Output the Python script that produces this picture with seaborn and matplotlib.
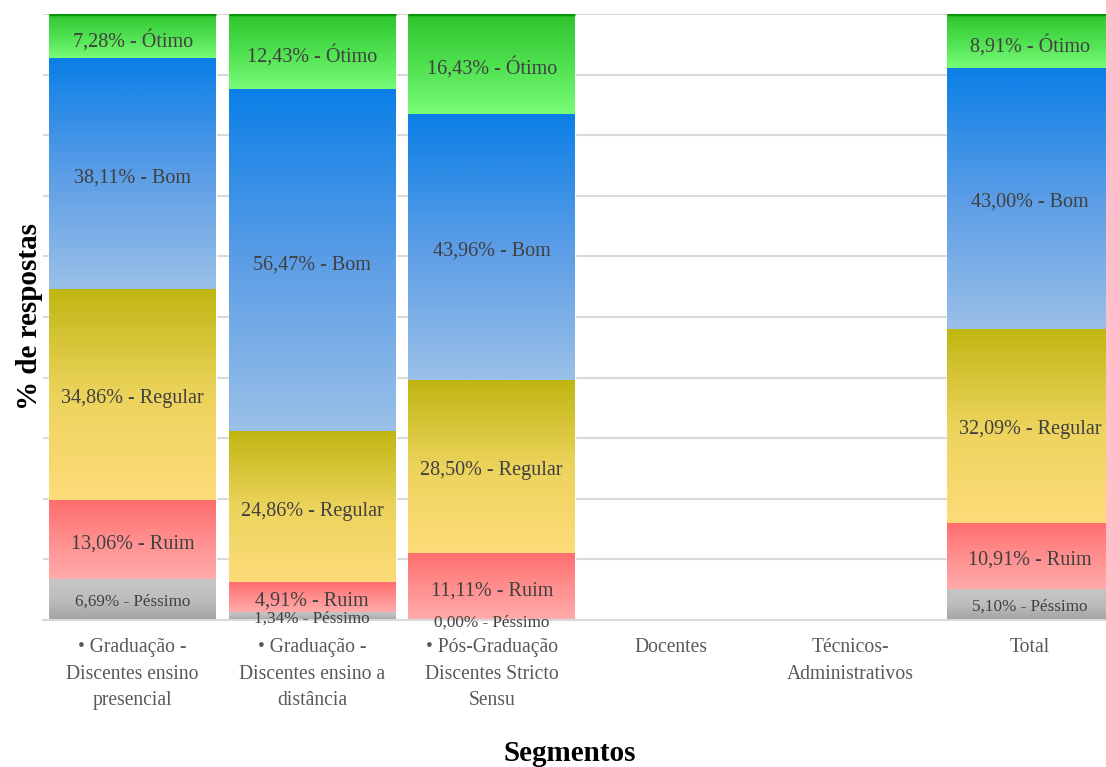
import matplotlib
matplotlib.use("Agg")
import matplotlib.pyplot as plt
import numpy as np
import pandas as pd
import seaborn as sns
from matplotlib.colors import LinearSegmentedColormap

SEGMENTOS = [
    "• Graduação -\nDiscentes ensino\npresencial",
    "• Graduação -\nDiscentes ensino a\ndistância",
    "• Pós-Graduação\nDiscentes Stricto\nSensu",
    "Docentes",
    "Técnicos-\nAdministrativos",
    "Total",
]
NIVEIS = ["Péssimo", "Ruim", "Regular", "Bom", "Ótimo"]

PESSIMO = [6.69, 1.34, 0.00, np.nan, np.nan, 5.10]
RUIM = [13.06, 4.91, 11.11, np.nan, np.nan, 10.91]
REGULAR = [34.86, 24.86, 28.50, np.nan, np.nan, 32.09]
BOM = [38.11, 56.47, 43.96, np.nan, np.nan, 43.00]
OTIMO = [7.28, 12.43, 16.43, np.nan, np.nan, 8.91]

# gradient colours per level, top -> bottom
GRADIENTES = {
    "Péssimo": ["#c6c6c6", "#bdbdbd", "#a3a3a3"],
    "Ruim": ["#ff6d6d", "#ff8e8e", "#ffabab"],
    "Regular": ["#c0b612", "#ecd35c", "#fddc79"],
    "Bom": ["#0a7fe6", "#5b9de6", "#9ac0e8"],
    "Ótimo": ["#2ec42e", "#4fe04f", "#78fc78"],
}

TEXTO = "#404040"
FONTE = "Liberation Serif"


def main() -> None:
    sns.set_theme(style="white")
    plt.rcParams["font.family"] = [FONTE, "DejaVu Serif"]

    df = pd.DataFrame(
        {"segmento": SEGMENTOS, "Péssimo": PESSIMO, "Ruim": RUIM,
         "Regular": REGULAR, "Bom": BOM, "Ótimo": OTIMO}
    )
    cum = df[NIVEIS].cumsum(axis=1)
    bottoms = cum - df[NIVEIS]

    fig = plt.figure(figsize=(11.06, 7.67), dpi=100)
    ax = fig.add_axes([43 / 1106, 1 - 620 / 767, 1077 / 1106, 606 / 767])

    # stacked bars: tallest cumulative first, then gradients on top
    base = df.assign(total=cum["Ótimo"])
    sns.barplot(data=base, x="segmento", y="total", order=SEGMENTOS,
                color="white", width=0.93, ax=ax, zorder=1)
    pos = {}
    for p in ax.patches:
        idx = int(round(p.get_x() + p.get_width() / 2))
        pos[idx] = (p.get_x(), p.get_width())

    grad = np.linspace(0, 1, 256).reshape(-1, 1)
    for nivel in NIVEIS:
        cmap = LinearSegmentedColormap.from_list(nivel, GRADIENTES[nivel])
        for i in range(len(SEGMENTOS)):
            v = df.loc[i, nivel]
            if np.isnan(v) or i not in pos:
                continue
            x0, w = pos[i]
            b = bottoms.loc[i, nivel]
            t = cum.loc[i, nivel]
            if v > 0:
                ax.imshow(grad, cmap=cmap, aspect="auto", origin="upper",
                          extent=[x0, x0 + w, b, t], zorder=2)
            small = nivel == "Péssimo"
            label = f"{v:.2f}%".replace(".", ",") + f" - {nivel}"
            dy = 0.3 if small and v > 3 else (0.5 if small else 0.7)
            ax.text(x0 + w / 2, b + v / 2 - dy, label,
                    ha="center", va="center", color=TEXTO,
                    fontsize=12.3 if small else 14.5, zorder=4)
            if nivel == "Ótimo":
                ax.plot([x0, x0 + w], [t, t], color="#009a00", lw=2.5,
                        solid_capstyle="butt", zorder=3)

    ax.set_xlim(-0.5, len(SEGMENTOS) - 0.5)
    ax.set_ylim(0, 100)
    ax.set_yticks(np.arange(0, 101, 10))
    ax.set_yticklabels([])
    ax.yaxis.grid(True, color="#d9d9d9", lw=1.5, zorder=0)
    ax.set_axisbelow(True)
    ax.tick_params(axis="y", length=0)
    for side in ["left", "right", "top"]:
        ax.spines[side].set_visible(False)
    ax.spines["bottom"].set_color("#d9d9d9")
    ax.spines["bottom"].set_linewidth(1.5)

    ax.set_xticks(range(len(SEGMENTOS)))
    ax.set_xticklabels(SEGMENTOS, fontsize=14.1, color="#595959",
                       linespacing=1.55)
    ax.set_xticks(np.arange(-0.5, len(SEGMENTOS), 1), minor=True)
    ax.tick_params(axis="x", which="major", length=0, pad=13)
    ax.tick_params(axis="x", which="minor", length=5, color="#d9d9d9",
                   width=1.5, direction="out")

    ax.set_xlabel("Segmentos", fontsize=21, fontweight="bold", color="black")
    ax.set_ylabel("% de respostas", fontsize=21, fontweight="bold",
                  color="black")
    ax.xaxis.set_label_coords(0.489, -0.198)
    ax.yaxis.set_label_coords(0.0, 0.5)

    fig.savefig("out.png", dpi=100)
    plt.close(fig)


if __name__ == "__main__":
    main()
